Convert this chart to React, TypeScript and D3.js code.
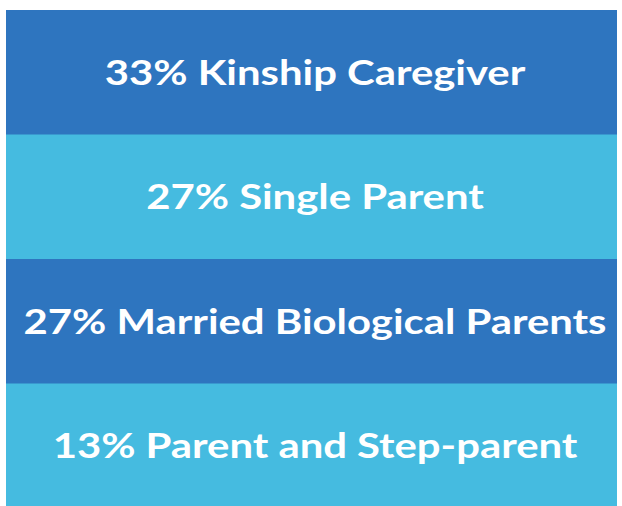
import React from "react";
import * as d3 from "d3";

const labels = [
  "33% Kinship Caregiver",
  "27% Single Parent",
  "27% Married Biological Parents",
  "13% Parent and Step-parent",
];
const fills = ["#2E75BF", "#45BBE0", "#2E75BF", "#45BBE0"];

const width = 622;
const height = 506;

const App = () => {
  const x0 = 6;
  const x1 = 617;
  const cx = 315;

  const y = d3
    .scaleBand()
    .domain(labels)
    .range([10, 508])
    .paddingInner(0)
    .paddingOuter(0);

  return (
    <svg
      width={width}
      height={height}
      style={{ position: "absolute", left: 0, top: 0, background: "#fff" }}
    >
      {labels.map((d, i) => {
        const cy = (y(d) || 0) + y.bandwidth() / 2;
        return (
          <g key={d}>
            <rect
              x={x0}
              y={y(d)}
              width={x1 - x0}
              height={y.bandwidth() + 0.5}
              fill={fills[i]}
            />
            {/* text is stretched sideways to match the wide bold face */}
            <text
              transform={`translate(${cx},${cy - 1}) scale(1.23,1)`}
              textAnchor="middle"
              dominantBaseline="central"
              fill="#fff"
              fontFamily="Lato, 'Open Sans', sans-serif"
              fontWeight="bold"
              fontSize={34}
            >
              {d}
            </text>
          </g>
        );
      })}
    </svg>
  );
};

export default App;
